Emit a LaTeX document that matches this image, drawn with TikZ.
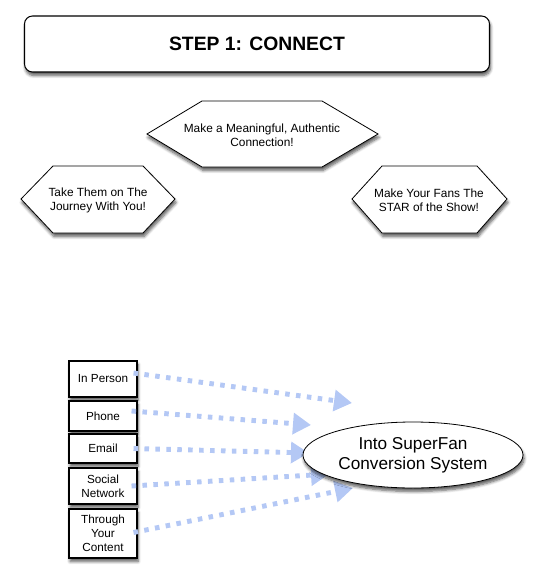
\documentclass[tikz,border=0pt]{standalone}
\usepackage{fontspec}
\setmainfont{Liberation Sans}
\usetikzlibrary{arrows.meta,shapes.geometric,calc,shadows,shadows.blur}
\definecolor{arrowblue}{RGB}{180,200,245}
\begin{document}
\begin{tikzpicture}[x=0.75pt,y=-0.75pt,
  shad/.style={blur shadow={shadow xshift=0.8pt, shadow yshift=-2.6pt, shadow blur steps=6, shadow blur radius=2.2pt, shadow opacity=65}},
  titlebox/.style={draw=black, line width=0.8pt, fill=white, rounded corners=6pt, minimum width=348.75pt, minimum height=42pt, inner sep=0pt, font=\fontsize{14.5}{17}\selectfont\bfseries, shad},
  hextext/.style={align=center, font=\fontsize{8.9}{10.6}\selectfont},
  hexshape/.style={draw=black, line width=0.6pt, fill=white, shad},
  chan/.style={draw=black, line width=0.8pt, fill=white, minimum width=51pt, inner sep=0pt, align=center, font=\fontsize{8.8}{10.3}\selectfont, shad},
  target/.style={ellipse, draw=black, line width=0.6pt, fill=white, minimum width=165pt, minimum height=49.5pt, inner sep=0pt, align=center, font=\fontsize{12.9}{15}\selectfont, shad},
  flow/.style={draw=arrowblue, line width=3.7pt, dash pattern=on 3.4pt off 4.8pt, -{Triangle[length=13.5pt,width=15.5pt]}}
]
\useasboundingbox (0,0) rectangle (534,582);

% title
\node[titlebox] (title) at (257,44) {STEP 1: CONNECT};

% hexagons
\draw[hexshape] (147,134) -- (202,101) -- (322,101) -- (378,134) -- (322,167) -- (202,167) -- cycle;
\node[hextext] (htop) at (262,135) {Make a Meaningful, Authentic\\Connection!};
\draw[hexshape] (21,199) -- (53,166) -- (143,166) -- (175,199) -- (143,233) -- (53,233) -- cycle;
\node[hextext] (hleft) at (98,200) {Take Them on The\\Journey With You!};
\draw[hexshape] (352,199) -- (382,166) -- (477,166) -- (507,199) -- (477,233) -- (382,233) -- cycle;
\node[hextext] (hright) at (429,200) {Make Your Fans The\\STAR of the Show!};

% channels
\node[chan, minimum height=27pt] (b1) at (103,379) {In Person};
\node[chan, minimum height=22.5pt] (b2) at (103,416) {Phone};
\node[chan, minimum height=21.75pt] (b3) at (103,448.5) {Email};
\node[chan, minimum height=27pt] (b4) at (103,486) {Social\\Network};
\node[chan, minimum height=36.75pt] (b5) at (103,533.5) {Through\\Your\\Content};

% arrow tips
\coordinate (t1) at (352,403);
\coordinate (t2) at (311,425);
\coordinate (t3) at (309,453);
\coordinate (t4) at (329,474);
\coordinate (t5) at (353,488);

\draw[flow] ($(b1.east)+(-4,-6)$) -- (t1);
\draw[flow] ($(b2.east)+(-6,-5)$) -- (t2);
\draw[flow] ($(b3.east)+(-4,0)$) -- (t3);
\draw[flow] ($(b4.east)+(-6,0)$) -- (t4);
\draw[flow] ($(b5.east)+(-4,-1)$) -- (t5);

% target
\node[target] (sys) at (413,455) {Into SuperFan\\Conversion System};
\end{tikzpicture}
\end{document}
